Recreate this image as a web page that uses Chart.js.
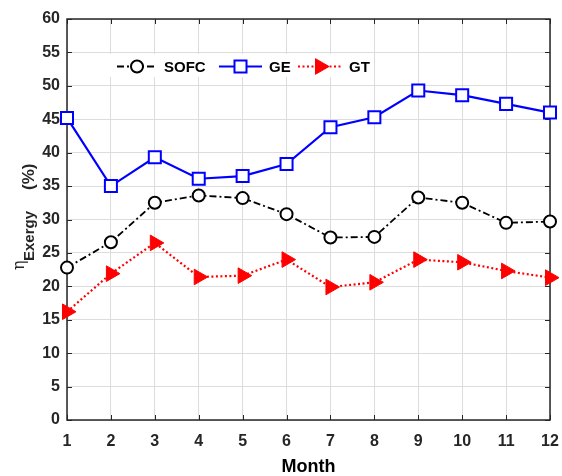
<!DOCTYPE html>
<html>
<head>
<meta charset="utf-8">
<script src="https://cdn.jsdelivr.net/npm/chart.js@4.4.0/dist/chart.umd.min.js"></script>
<style>
  html, body { margin: 0; padding: 0; background: #fff; }
  #wrap { width: 562px; height: 476px; }
</style>
</head>
<body>
<div id="wrap"><canvas id="myChart" width="562" height="476"></canvas></div>
<script>
const months = ["1", "2", "3", "4", "5", "6", "7", "8", "9", "10", "11", "12"];
const sofc = [22.8, 26.6, 32.5, 33.6, 33.2, 30.8, 27.3, 27.4, 33.3, 32.5, 29.5, 29.7];
const ge = [45.2, 35.0, 39.3, 36.1, 36.5, 38.3, 43.8, 45.3, 49.3, 48.6, 47.3, 46.0];
const gt = [16.2, 21.9, 26.5, 21.4, 21.6, 24.0, 19.9, 20.6, 24.0, 23.6, 22.3, 21.3];
const seriesNames = ["SOFC", "GE", "GT"];

const FONT = "'Liberation Sans', Arial, sans-serif";
const INK = "#262626";

// frame + inward tick marks, like a matlab box
const framePlugin = {
  id: "frame",
  beforeDatasetsDraw(chart) {
    const { ctx, chartArea: a, scales } = chart;
    ctx.save();
    ctx.strokeStyle = INK;
    ctx.lineWidth = 1;
    ctx.beginPath();
    scales.x.ticks.forEach((t, i) => {
      const x = Math.round(scales.x.getPixelForTick(i)) + 0.5;
      ctx.moveTo(x, a.bottom); ctx.lineTo(x, a.bottom - 5);
      ctx.moveTo(x, a.top); ctx.lineTo(x, a.top + 5);
    });
    scales.y.ticks.forEach((t, i) => {
      const y = Math.round(scales.y.getPixelForTick(i)) + 0.5;
      ctx.moveTo(a.left, y); ctx.lineTo(a.left + 5, y);
      ctx.moveTo(a.right, y); ctx.lineTo(a.right - 5, y);
    });
    ctx.stroke();
    ctx.lineWidth = 1.5;
    ctx.strokeRect(a.left, a.top, a.right - a.left, a.bottom - a.top);
    ctx.restore();
  },
  afterDraw(chart) {
    const { ctx, chartArea: a } = chart;
    ctx.save();
    // y title: eta with subscript, rotated
    ctx.translate(0, 270);
    ctx.rotate(-Math.PI / 2);
    ctx.fillStyle = INK;
    ctx.textBaseline = "alphabetic";
    ctx.textAlign = "left";
    ctx.font = "16px 'DejaVu Serif', serif";
    ctx.fillText("\u03b7", 0, 24);
    ctx.font = "bold 15px " + FONT;
    ctx.fillText("Exergy", 9, 34);
    ctx.font = "bold 17px " + FONT;
    ctx.fillText("(%)", 80, 34);
    ctx.restore();

    // x title
    ctx.save();
    ctx.fillStyle = "#000";
    ctx.font = "bold 18px " + FONT;
    ctx.textAlign = "center";
    ctx.textBaseline = "alphabetic";
    ctx.fillText("Month", (a.left + a.right) / 2, 472);
    ctx.restore();

    // legend inside the axes
    ctx.save();
    ctx.fillStyle = "#fff";
    ctx.fillRect(108, 54, 266, 23);
    const ly = 66.5;
    const items = [
      { x0: 117, x1: 157, text: seriesNames[0], ds: chart.data.datasets[0] },
      { x0: 219, x1: 262, text: seriesNames[1], ds: chart.data.datasets[1] },
      { x0: 298, x1: 342, text: seriesNames[2], ds: chart.data.datasets[2] },
    ];
    items.forEach((it) => {
      const d = it.ds;
      ctx.strokeStyle = d.borderColor;
      ctx.lineWidth = d.borderWidth;
      ctx.setLineDash(d.borderDash || []);
      ctx.beginPath();
      ctx.moveTo(it.x0, ly); ctx.lineTo(it.x1, ly);
      ctx.stroke();
      ctx.setLineDash([]);
      ctx.fillStyle = d.pointBackgroundColor;
      ctx.strokeStyle = d.pointBorderColor;
      ctx.lineWidth = d.pointBorderWidth;
      Chart.helpers.drawPoint(ctx, {
        pointStyle: d.pointStyle,
        rotation: d.pointRotation || 0,
        radius: d.pointRadius,
        borderWidth: d.pointBorderWidth,
      }, (it.x0 + it.x1) / 2, ly);
      ctx.fillStyle = "#000";
      ctx.font = "bold 15px " + FONT;
      ctx.textBaseline = "middle";
      ctx.fillText(it.text, it.x1 + 7, ly + 1);
    });
    ctx.restore();
  },
};

const data = {
  labels: months,
  datasets: [
    {
      label: seriesNames[0],
      data: sofc,
      borderColor: "#000",
      borderWidth: 1.8,
      borderDash: [7, 3, 2, 3],
      pointStyle: "circle",
      pointRadius: 6,
      pointBorderWidth: 2,
      pointBackgroundColor: "#fff",
      pointBorderColor: "#000",
    },
    {
      label: seriesNames[1],
      data: ge,
      borderColor: "#0000ff",
      borderWidth: 2.2,
      pointStyle: "rect",
      pointRadius: 8.5,
      pointBorderWidth: 2,
      pointBackgroundColor: "#fff",
      pointBorderColor: "#0000ff",
    },
    {
      label: seriesNames[2],
      data: gt,
      borderColor: "#ff0000",
      borderWidth: 2.2,
      borderDash: [2, 2.5],
      pointStyle: "triangle",
      pointRotation: 90,
      pointRadius: 9,
      pointBorderWidth: 1,
      pointBackgroundColor: "#ff0000",
      pointBorderColor: "#ff0000",
    },
  ],
};

const config = {
  type: "line",
  data,
  options: {
    responsive: false,
    animation: false,
    clip: false,
    layout: {
      padding: { top: 19, right: 12, left: 0, bottom: 0 },
    },
    elements: {
      line: { tension: 0 },
    },
    scales: {
      x: {
        offset: false,
        border: { display: false },
        grid: { color: "#dcdcdc", lineWidth: 1, drawTicks: false },
        ticks: {
          color: INK,
          padding: 12,
          maxRotation: 0,
          autoSkip: false,
          font: { family: FONT, size: 16, weight: "bold" },
        },
        afterFit(scale) {
          scale.height = 56;
          scale.paddingLeft = 0;
          scale.paddingRight = 0;
        },
      },
      y: {
        min: 0,
        max: 60,
        border: { display: false },
        grid: { color: "#dcdcdc", lineWidth: 1, drawTicks: false },
        ticks: {
          stepSize: 5,
          color: INK,
          padding: 7,
          font: { family: FONT, size: 16, weight: "bold" },
        },
        afterFit(scale) {
          scale.width = 67;
          scale.paddingTop = 0;
          scale.paddingBottom = 0;
        },
      },
    },
    plugins: {
      legend: { display: false },
      tooltip: { enabled: false },
    },
  },
  plugins: [framePlugin],
};

new Chart(document.getElementById("myChart"), config);
</script>
</body>
</html>
